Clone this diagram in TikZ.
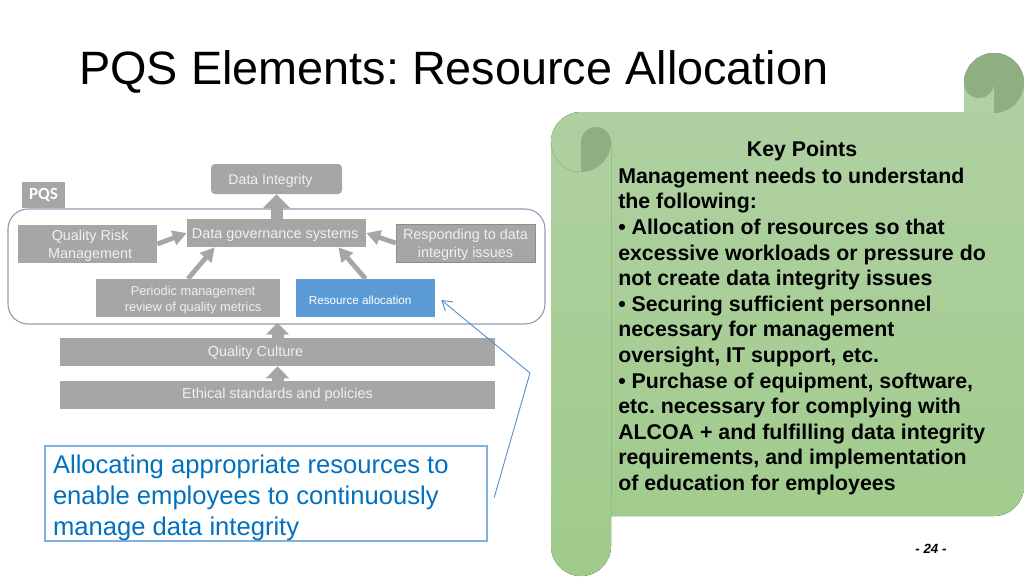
\documentclass[tikz,border=0pt]{standalone}
\usepackage{fontspec}
\setmainfont{Liberation Sans}
\newfontfamily\pqsfont{Carlito}
\usetikzlibrary{positioning,arrows.meta}
\frenchspacing
\definecolor{BoxGray}{HTML}{A6A6A6}
\definecolor{BoxText}{HTML}{F0F0F0}
\definecolor{FrameLine}{HTML}{8C9BB0}
\definecolor{ResBlue}{HTML}{5B9BD5}
\definecolor{NoteBlue}{HTML}{0070C0}
\definecolor{NoteLine}{HTML}{7FB2E0}
\definecolor{CallLine}{HTML}{5B8FC9}
\definecolor{ScrollTop}{HTML}{B1D1A4}
\definecolor{ScrollBot}{HTML}{A0CB8B}
\definecolor{ScrollDark}{HTML}{8FAF83}
\definecolor{ScrollLine}{HTML}{93BF80}
% label inside a box, moved by #1 and #2 from the box centre
\newcommand{\boxlabel}[3]{\makebox[0pt]{\hspace*{\dimexpr 2\dimexpr #1\relax\relax}\raisebox{#2}[0pt][0pt]{\begin{tabular}{@{}c@{}}#3\end{tabular}}}}
\tikzset{
  graybox/.style={fill=BoxGray, text=BoxText, inner sep=0pt, font=\fontsize{10.8}{13.5}\selectfont},
  smallbox/.style={graybox, font=\fontsize{9.6}{12}\selectfont},
  slimarrow/.style={draw=BoxGray, line width=3.6pt, -{Triangle[length=10.5pt,width=11pt]}},
  blockarrow/.style={draw=BoxGray, line width=9pt, -{Triangle[length=9pt,width=17pt]}}
}
\begin{document}
\begin{tikzpicture}[x=0.75pt, y=-0.75pt]
      \useasboundingbox (0,0) rectangle (1024,576);
      % Scroll
      \fill[top color=ScrollTop, bottom color=ScrollBot] (551,142) arc[start angle=-180, end angle=-90, radius=30] -- (964,112) -- (964,83) arc[start angle=-180, end angle=0, radius=30] -- (1024,486) arc[start angle=0, end angle=90, radius=30] -- (611,516) -- (611,546) arc[start angle=0, end angle=180, radius=30] -- cycle;
      \fill[ScrollTop] (964,83) rectangle (994,112);
      \fill[ScrollDark] (964,83) arc[start angle=-180, end angle=0, radius=30] arc[start angle=0, end angle=90, radius=30] -- (994,83) arc[start angle=0, end angle=180, radius=15] -- cycle;
      \fill[ScrollDark] (596,127) arc[start angle=-90, end angle=0, radius=15] arc[start angle=0, end angle=90, radius=30] -- (581,142) arc[start angle=-180, end angle=-90, radius=15] -- cycle;
      \draw[ScrollLine, line width=0.6pt] (551,142) arc[start angle=180, end angle=90, radius=30];
      \draw[ScrollLine, line width=0.6pt] (611,142) -- (611,516);
      % Frame
      \draw[FrameLine, line width=0.8pt, rounded corners=15pt] (8,209) rectangle (545,324);
      % Nodes
      \node[anchor=base west, inner sep=0pt, font=\fontsize{35.1}{40}\selectfont] (title) at (79,84) {PQS Elements: Resource Allocation};
      \node[fill=BoxGray, text=white, inner sep=0pt, minimum width=32.25pt, minimum height=19.5pt, font=\pqsfont\fontsize{12.8}{14}\selectfont\bfseries] (pqs) at (43.5,195) {PQS};
      \node[graybox, rounded corners=3pt, minimum width=98.25pt, minimum height=22.5pt, font=\fontsize{10.6}{13}\selectfont] (integrity) at (276.5,179) {\boxlabel{-4.5pt}{-4.2pt}{Data Integrity}};
      \node[graybox, minimum width=134.25pt, minimum height=21pt] (governance) at (276.5,233) {\boxlabel{-1pt}{-4.2pt}{Data governance systems}};
      \node[graybox, minimum width=104.25pt, minimum height=28.5pt] (risk) at (87.5,244) {\boxlabel{2pt}{-4.3pt}{Quality Risk\\Management}};
      \node[graybox, draw=BoxGray!85!black, line width=0.5pt, minimum width=104.25pt, minimum height=28.5pt] (responding) at (465.5,243) {\boxlabel{0pt}{-4.5pt}{Responding to data\\integrity issues}};
      \node[smallbox, minimum width=138pt, minimum height=28.5pt] (review) at (188,298) {\boxlabel{3.8pt}{-4pt}{Periodic management\\review of quality metrics}};
      \node[fill=ResBlue, text=white, inner sep=0pt, minimum width=104.25pt, minimum height=28.5pt, font=\fontsize{8.75}{11}\selectfont] (resource) at (365.5,298) {\boxlabel{-4pt}{-5pt}{Resource allocation}};
      \node[graybox, minimum width=326.25pt, minimum height=21pt] (culture) at (277.5,352) {\boxlabel{-16.5pt}{-3.5pt}{Quality Culture}};
      \node[graybox, minimum width=326.25pt, minimum height=21pt] (ethical) at (277.5,395) {\boxlabel{0pt}{-2.8pt}{Ethical standards and policies}};
      \node[draw=NoteLine, line width=0.8pt, text=NoteBlue, inner sep=0pt, minimum width=331.5pt, minimum height=71.25pt, font=\fontsize{19.2}{23.3}\selectfont] (note) at (266,493.5) {\boxlabel{-0pt}{-8.8pt}{\makebox[319.5pt][l]{Allocating appropriate resources to}\\\makebox[319.5pt][l]{enable employees to continuously}\\\makebox[319.5pt][l]{manage data integrity}}};
      \node[font=\fontsize{16}{19.2}\selectfont\bfseries, inner sep=0pt] (keyhead) at (802,151) {Key Points};
      \node[anchor=north west, align=left, inner sep=0pt, font=\fontsize{16}{19.2}\selectfont\bfseries] (keytext) at (618,167.5) {Management needs to understand\\the following:\\• Allocation of resources so that\\excessive workloads or pressure do\\not create data integrity issues\\• Securing sufficient personnel\\necessary for management\\oversight, IT support, etc.\\• Purchase of equipment, software,\\etc. necessary for complying with\\ALCOA + and fulfilling data integrity\\requirements, and implementation\\of education for employees};
      \node[font=\fontsize{10}{12}\selectfont\bfseries\itshape, inner sep=0pt] (page) at (931,549) {- 24 -};
      \coordinate (bend) at (530,373);
      % Arrows
      \draw[slimarrow] (risk.east) -- (governance.west);
      \draw[slimarrow] (responding.west) -- (governance.east);
      \draw[slimarrow] (review.north) -- (governance.193);
      \draw[slimarrow] (resource.north) -- (governance.347);
      \draw[blockarrow, -{Triangle[length=10.5pt,width=20pt]}] (governance.north) -- (integrity.south);
      \draw[blockarrow] (culture.north) -- ++(0,-15);
      \draw[blockarrow] (ethical.north) -- (culture.south);
      \draw[CallLine, line width=0.7pt, -{Straight Barb[length=7pt,width=9pt]}] ([xshift=5pt,yshift=-3pt]note.east) -- (bend) -- ([xshift=4.5pt,yshift=-1.5pt]resource.east);
    \end{tikzpicture}
\end{document}
